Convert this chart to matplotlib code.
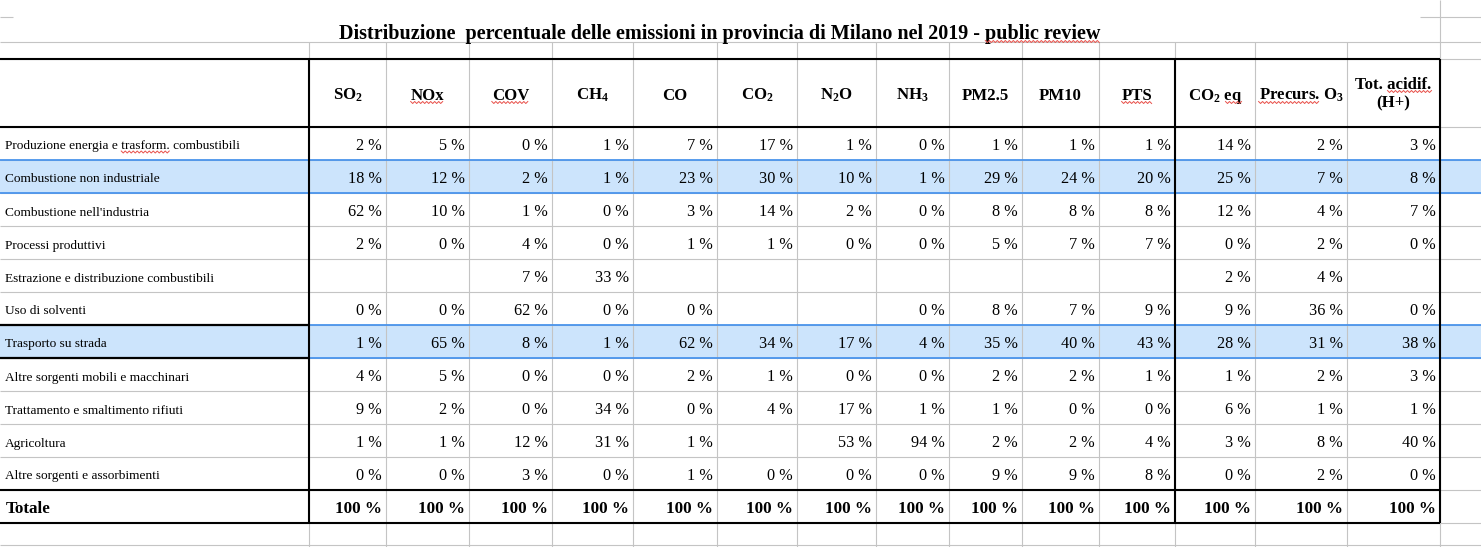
import numpy as np
import matplotlib.pyplot as plt

plt.rcParams['font.family'] = ['Liberation Serif', 'DejaVu Serif']
plt.rcParams['mathtext.fontset'] = 'custom'
plt.rcParams['mathtext.rm'] = 'Liberation Serif:bold'
plt.rcParams['mathtext.it'] = 'Liberation Serif:italic:bold'
plt.rcParams['mathtext.bf'] = 'Liberation Serif:bold'
plt.rcParams['mathtext.default'] = 'rm'

# table content
title = 'Distribuzione  percentuale delle emissioni in provincia di Milano nel 2019 - public review'

columns = ['SO$_2$', 'NOx', 'COV', 'CH$_4$', 'CO', 'CO$_2$', 'N$_2$O', 'NH$_3$',
           'PM2.5', 'PM10', 'PTS', 'CO$_2$ eq', 'Precurs. O$_3$', 'Tot. acidif.\n(H+)']

sectors = ['Produzione energia e trasform. combustibili',
           'Combustione non industriale',
           "Combustione nell'industria",
           'Processi produttivi',
           'Estrazione e distribuzione combustibili',
           'Uso di solventi',
           'Trasporto su strada',
           'Altre sorgenti mobili e macchinari',
           'Trattamento e smaltimento rifiuti',
           'Agricoltura',
           'Altre sorgenti e assorbimenti']

# percent values per sector, None = empty cell
values = [
    [2, 5, 0, 1, 7, 17, 1, 0, 1, 1, 1, 14, 2, 3],
    [18, 12, 2, 1, 23, 30, 10, 1, 29, 24, 20, 25, 7, 8],
    [62, 10, 1, 0, 3, 14, 2, 0, 8, 8, 8, 12, 4, 7],
    [2, 0, 4, 0, 1, 1, 0, 0, 5, 7, 7, 0, 2, 0],
    [None, None, 7, 33, None, None, None, None, None, None, None, 2, 4, None],
    [0, 0, 62, 0, 0, None, None, 0, 8, 7, 9, 9, 36, 0],
    [1, 65, 8, 1, 62, 34, 17, 4, 35, 40, 43, 28, 31, 38],
    [4, 5, 0, 0, 2, 1, 0, 0, 2, 2, 1, 1, 2, 3],
    [9, 2, 0, 34, 0, 4, 17, 1, 1, 0, 0, 6, 1, 1],
    [1, 1, 12, 31, 1, None, 53, 94, 2, 2, 4, 3, 8, 40],
    [0, 0, 3, 0, 1, 0, 0, 0, 9, 9, 8, 0, 2, 0],
]
total_label = 'Totale'
totals = [100] * 14

highlighted = ['Combustione non industriale', 'Trasporto su strada']
selected = 'Trasporto su strada'

# words flagged by the spell checker (text, word)
flagged = [(title, 'public review'), ('NOx', 'NOx'), ('COV', 'COV'), ('PTS', 'PTS'),
           ('CO$_2$ eq', 'eq'), ('Precurs. O$_3$', 'Precurs.'), ('Tot. acidif.', 'acidif.'),
           (sectors[0], 'trasform.')]

# layout (pixels)
W, H = 1481, 547
col_widths = [309, 77, 83, 83, 81, 84, 80, 79, 73, 73, 77, 76, 80, 92, 93]
edges = np.concatenate([[0], np.cumsum(col_widths)])
thick_cols = [1, 12, 15]
head_top, head_bot, row_h = 59, 127, 33
row_edges = head_bot + row_h * np.arange(len(sectors) + 2)
grey, blue, fill = '#c4c4c4', '#4a94ec', '#cce4fc'

fig = plt.figure(figsize=(W / 100, H / 100), dpi=100)
ax = fig.add_axes([0, 0, 1, 1])
ax.set_xlim(0, W)
ax.set_ylim(H, 0)
ax.axis('off')


def hline(y, x0, x1, color, lw, z):
    ax.plot([x0, x1], [y, y], color=color, lw=lw, zorder=z, solid_capstyle='butt')


def vline(x, y0, y1, color, lw, z):
    ax.plot([x, x], [y0, y1], color=color, lw=lw, zorder=z, solid_capstyle='butt')


# row highlights
for i, s in enumerate(sectors):
    if s in highlighted:
        ax.axhspan(row_edges[i], row_edges[i + 1], color=fill, lw=0, zorder=1)

# sheet gridlines
hline(17, 0, 13, grey, 0.8, 2)
hline(17, 1420, W, grey, 0.8, 2)
hline(42, 0, W, grey, 0.8, 2)
for y in [head_top, *row_edges, 545]:
    hline(y, 0, W, grey, 0.8, 2)
for x in edges[1:-1]:
    vline(x, 42, H, grey, 0.8, 2)
vline(edges[-1], 0, H, grey, 0.8, 2)

# highlight borders
for i, s in enumerate(sectors):
    if s in highlighted:
        hline(row_edges[i], 0, W, blue, 1.3, 3)
        hline(row_edges[i + 1], 0, W, blue, 1.3, 3)
    if s == selected:
        hline(row_edges[i], 0, edges[1], 'black', 1.6, 4)
        hline(row_edges[i + 1], 0, edges[1], 'black', 1.6, 4)

# table borders
for y in [head_top, head_bot, row_edges[-2], row_edges[-1]]:
    hline(y, 0, edges[-1], 'black', 1.5, 4)
for c in thick_cols:
    vline(edges[c], head_top, row_edges[-1], 'black', 1.5, 4)

texts = {}
texts[title] = ax.text(720, 39, title, fontsize=14.5, fontweight='bold',
                       ha='center', va='baseline', zorder=5)

# header
for j, name in enumerate(columns):
    xc = (edges[j + 1] + edges[j + 2]) / 2
    lines = name.split('\n')
    if len(lines) == 1:
        base = [100]
    else:
        base = [89, 107]
    for line, yb in zip(lines, base):
        texts[line] = ax.text(xc, yb, line, fontsize=12.1, fontweight='bold',
                              ha='center', va='baseline', zorder=5)

# body
for i, (s, row) in enumerate(zip(sectors, values)):
    yb = row_edges[i] + 23
    texts[s] = ax.text(5, yb - 0.5, s, fontsize=9.6, ha='left', va='baseline', zorder=5)
    for j, v in enumerate(row):
        if v is None:
            continue
        ax.text(edges[j + 2] - 4, yb, f'{v} %', fontsize=11.7, color='black',
                ha='right', va='baseline', zorder=5)

yb = row_edges[-2] + 23
ax.text(6, yb, total_label, fontsize=12.3, fontweight='bold', ha='left', va='baseline', zorder=5)
for j, v in enumerate(totals):
    ax.text(edges[j + 2] - 4, yb, f'{v} %', fontsize=12.3, fontweight='bold',
            ha='right', va='baseline', zorder=5)

# red spell-check squiggles
fig.canvas.draw()
r = fig.canvas.get_renderer()


def width(t, s):
    w, _, _ = r.get_text_width_height_descent(s, t.get_fontproperties(), ismath=s.count('$') >= 2)
    return w


for s, word in flagged:
    t = texts[s]
    x0 = t.get_window_extent(r).x0
    idx = s.index(word)
    x_end = x0 + width(t, s[:idx + len(word)])
    x_start = x_end - width(t, word)
    yb = t.get_position()[1] + 2.5
    xs = np.arange(x_start, x_end + 0.1, 2.0)
    ys = yb + np.where(np.arange(len(xs)) % 2 == 0, -1.0, 1.0)
    ax.plot(xs, ys, color='#e8504a', lw=0.7, zorder=6)

fig.savefig('out.png', dpi=100)
